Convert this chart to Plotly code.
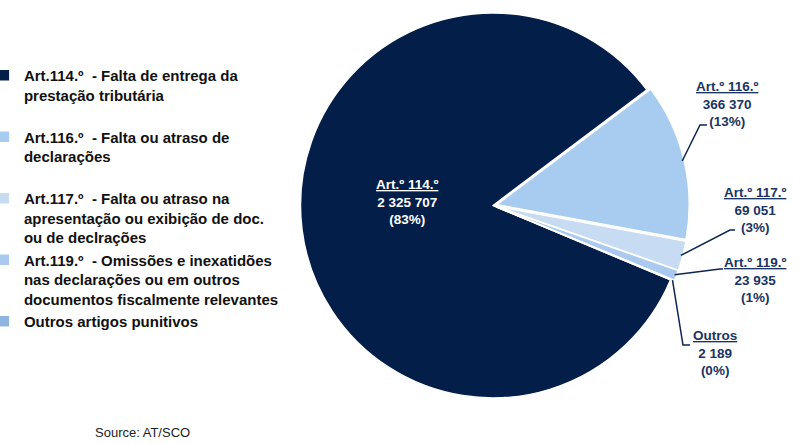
import math
import plotly.graph_objects as go

# data
categories = [
    "Art.114.º  - Falta de entrega da<br>prestação tributária",
    "Art.116.º  - Falta ou atraso de<br>declarações",
    "Art.117.º  - Falta ou atraso na<br>apresentação ou exibição de doc.<br>ou de declrações",
    "Art.119.º  - Omissões e inexatidões<br>nas declarações ou em outros<br>documentos fiscalmente relevantes",
    "Outros artigos punitivos",
]
short_names = ["Art.º 114.º", "Art.º 116.º", "Art.º 117.º", "Art.º 119.º", "Outros"]
values = [2325707, 366370, 69051, 23935, 2189]
pct_labels = ["(83%)", "(13%)", "(3%)", "(1%)", "(0%)"]

colors = ["#041e4a", "#a8ccef", "#c7dbf2", "#a9caee", "#8fb4e0"]
pulls = [0, 0.02, 0.02, 0.02, 0.02]

W, H = 806, 443
cx, cy, r = 493, 205.5, 192.5      # pie centre / radius in pixels
boundary = 53.1                     # clockwise angle from 12 o'clock where 116 starts

total = sum(values)
rotation = boundary + (1 - values[0] / total) * 360
if rotation > 360:
    rotation -= 360

# pad legend entries so every item takes three lines
legend_labels = []
for c in categories:
    n = c.count("<br>") + 1
    legend_labels.append(c + "<br> " * (3 - n) if n < 3 else c)

half = r * (1 + max(pulls))
fig = go.Figure(go.Pie(
    labels=legend_labels,
    values=values,
    sort=False,
    direction="clockwise",
    rotation=rotation,
    pull=pulls,
    marker=dict(colors=colors, line=dict(color="white", width=1.5)),
    textinfo="none",
    hoverinfo="label+value+percent",
    domain=dict(x=[(cx - half) / W, (cx + half) / W],
                y=[1 - (cy + half) / H, 1 - (cy - half) / H]),
))


def fmt(v):
    return f"{v:,}".replace(",", " ")


def px2paper(x, y):
    return x / W, 1 - y / H


# label positions (pixels): text centre, elbow, line end
label_pos = {
    1: dict(t=(727, 104), elbow=(700, 125), end=(707, 125)),
    2: dict(t=(755, 210), elbow=(730, 230), end=(735, 230)),
    3: dict(t=(755, 280), elbow=(720, 269), end=(723, 269)),
    4: dict(t=(715, 353), elbow=(683, 345), end=(690, 345)),
}

lab_font = dict(family="Arial, Liberation Sans", size=13.5, weight="bold")
ann = []
shapes = []
# inside label for the big slice
tx, ty = px2paper(407, 202)
ann.append(dict(x=tx, y=ty, xref="paper", yref="paper", showarrow=False,
                xanchor="center", yanchor="middle",
                text=f"<u>{short_names[0]}</u><br>{fmt(values[0])}<br>{pct_labels[0]}",
                font=dict(lab_font, color="white"), align="center"))

cum = values[0] / total * 360 + rotation
for i in range(1, len(values)):
    span = values[i] / total * 360
    mid = cum + span / 2
    cum += span
    a = math.radians(mid)
    rr = r * (1 + pulls[i]) * 0.99
    sx, sy = cx + rr * math.sin(a), cy - rr * math.cos(a)
    p = label_pos[i]
    x0, y0 = px2paper(sx, sy)
    x1, y1 = px2paper(*p["elbow"])
    x2, y2 = px2paper(*p["end"])
    shapes.append(dict(type="path", xref="paper", yref="paper",
                       path=f"M{x0},{y0} L{x1},{y1} L{x2},{y2}",
                       line=dict(color="#0d2550", width=1.5)))
    tx, ty = px2paper(*p["t"])
    ann.append(dict(x=tx, y=ty, xref="paper", yref="paper", showarrow=False,
                    xanchor="center", yanchor="middle",
                    text=f"<u>{short_names[i]}</u><br>{fmt(values[i])}<br>{pct_labels[i]}",
                    font=dict(lab_font, color="#1b3462"), align="center"))

sx, sy = px2paper(142, 432)
ann.append(dict(x=sx, y=sy, xref="paper", yref="paper", showarrow=False,
                xanchor="center", yanchor="middle",
                text="Source: AT/SCO",
                font=dict(family="Arial, Liberation Sans", size=13, color="#222222")))

fig.update_layout(
    width=W, height=H,
    margin=dict(l=0, r=0, t=0, b=0, autoexpand=False),
    paper_bgcolor="white",
    showlegend=True,
    legend=dict(x=-0.02, y=1 - 59 / H, xanchor="left", yanchor="top",
                valign="top", traceorder="normal",
                font=dict(family="Arial, Liberation Sans", size=15,
                          weight="bold", color="#111111"),
                bgcolor="rgba(0,0,0,0)"),
    annotations=ann,
    shapes=shapes,
)

# drop the default page margin so the figure sits at the window's corner
fig.write_html("out.html", config={"displayModeBar": False},
               post_script="document.body.style.margin='0';")
